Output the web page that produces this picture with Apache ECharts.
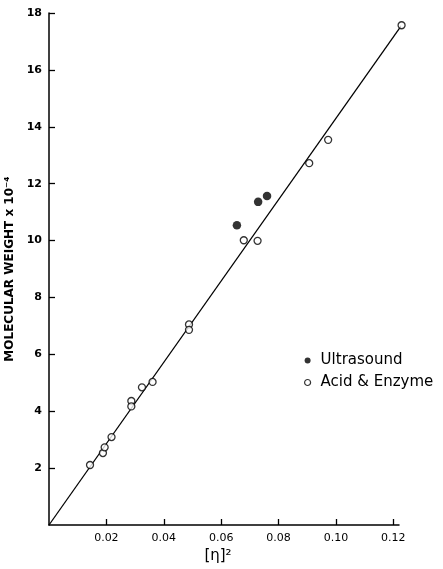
<!DOCTYPE html>
<html>
<head>
<meta charset="utf-8">
<script src="https://cdn.jsdelivr.net/npm/echarts@6/dist/echarts.min.js"></script>
<style>
  html, body { margin: 0; padding: 0; background: #fff; }
  #chart { width: 443px; height: 569px; }
</style>
</head>
<body>
<div id="chart"></div>
<script>
// values
var acidX = [0.0143, 0.0188, 0.0194, 0.0218, 0.0287, 0.0287, 0.0324, 0.0361, 0.0488, 0.0488, 0.0679, 0.0727, 0.0907, 0.0973, 0.1229];
var acidY = [2.11, 2.53, 2.73, 3.09, 4.36, 4.17, 4.84, 5.03, 7.05, 6.86, 10.01, 9.99, 12.72, 13.54, 17.57];
var ultraX = [0.0655, 0.0729, 0.0760];
var ultraY = [10.54, 11.36, 11.57];
var lineX = [0, 0.1229];
var lineY = [0, 17.57];
var xTicks = [0.02, 0.04, 0.06, 0.08, 0.10, 0.12];
var yTicks = [2, 4, 6, 8, 10, 12, 14, 16, 18];

function pairs(xs, ys) {
  return xs.map(function (x, i) { return [x, ys[i]]; });
}

var chart = echarts.init(document.getElementById('chart'));
var font = 'DejaVu Sans';

chart.setOption({
  backgroundColor: '#fff',
  animation: false,
  grid: { left: 49, top: 13, right: 44, bottom: 44, outerBoundsMode: 'none' },
  legend: {
    orient: 'vertical',
    left: 299,
    top: 348,
    itemWidth: 6,
    itemHeight: 6,
    itemGap: 7,
    textStyle: { fontFamily: font, fontSize: 15, color: '#000', padding: [0, 0, 0, 5] },
    data: [
      { name: 'Ultrasound', icon: 'circle', itemStyle: { color: '#000', borderWidth: 0 } },
      { name: 'Acid & Enzyme', icon: 'circle', itemStyle: { color: '#fff', borderColor: '#000', borderWidth: 1.2 } }
    ]
  },
  xAxis: {
    type: 'value',
    min: 0,
    max: 0.122,
    interval: 0.02,
    name: '[η]²',
    nameLocation: 'middle',
    nameGap: 24,
    nameTextStyle: { fontFamily: font, fontSize: 15, color: '#000', padding: [0, 12, 0, 0] },
    splitLine: { show: false },
    axisLine: { lineStyle: { color: '#000', width: 1.5 } },
    axisTick: { inside: true, length: 6, lineStyle: { color: '#000', width: 1.3 }, customValues: xTicks },
    axisLabel: {
      customValues: xTicks,
      margin: 8,
      fontFamily: font,
      fontSize: 11,
      color: '#000',
      formatter: function (v) { return v.toFixed(2); }
    }
  },
  yAxis: {
    type: 'value',
    min: 0,
    max: 18,
    interval: 2,
    name: 'MOLECULAR WEIGHT x 10⁻⁴',
    nameLocation: 'middle',
    nameGap: 27,
    nameTextStyle: { fontFamily: font, fontSize: 12, fontWeight: 'bold', color: '#000' },
    splitLine: { show: false },
    axisLine: { lineStyle: { color: '#000', width: 1.5 } },
    axisTick: { inside: true, length: 6, lineStyle: { color: '#000', width: 1.3 }, customValues: yTicks },
    axisLabel: {
      customValues: yTicks,
      margin: 7,
      fontFamily: font,
      fontSize: 11,
      fontWeight: 'bold',
      color: '#000'
    }
  },
  series: [
    {
      name: 'fit',
      type: 'line',
      data: pairs(lineX, lineY),
      symbol: 'none',
      lineStyle: { color: '#000', width: 1.3 },
      silent: true,
      z: 1
    },
    {
      name: 'Acid & Enzyme',
      type: 'scatter',
      data: pairs(acidX, acidY),
      symbol: 'circle',
      symbolSize: 7,
      clip: false,
      itemStyle: { color: '#fff', borderColor: '#000', borderWidth: 1.3 },
      z: 3
    },
    {
      name: 'Ultrasound',
      type: 'scatter',
      data: pairs(ultraX, ultraY),
      symbol: 'circle',
      symbolSize: 8.5,
      clip: false,
      itemStyle: { color: '#000' },
      z: 3
    }
  ]
});
</script>
</body>
</html>
